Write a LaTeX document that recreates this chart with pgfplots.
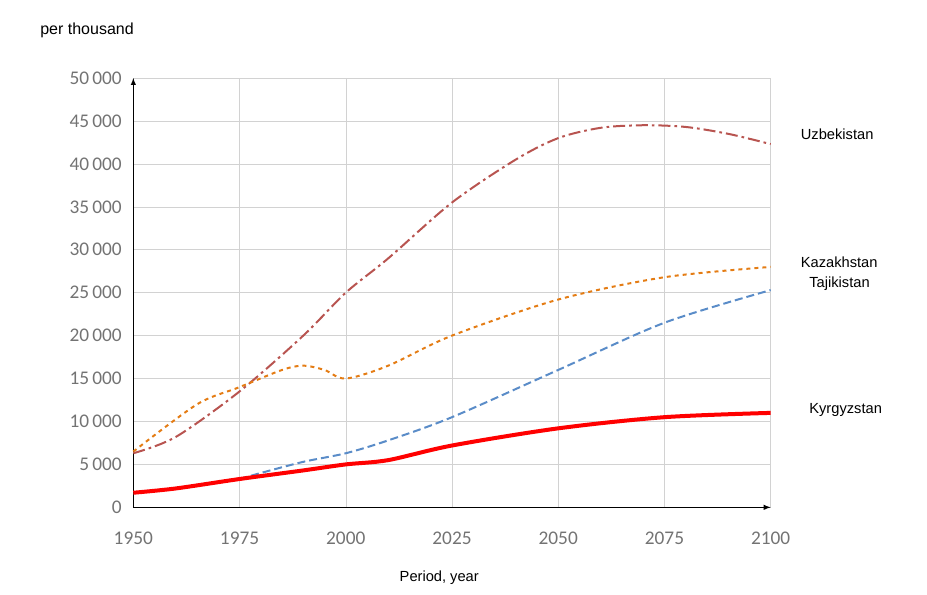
\documentclass[border=0pt]{standalone}
\usepackage{pgfplots}
\pgfplotsset{compat=1.18}
\usepackage{fontspec}
\setmainfont{Carlito}
\newfontfamily\arial{Liberation Sans}
\definecolor{uzb}{RGB}{184,84,80}
\definecolor{kaz}{RGB}{228,124,20}
\definecolor{taj}{RGB}{90,140,200}
\begin{document}
\begin{tikzpicture}
\path[use as bounding box] (-100pt,-65pt) rectangle (595.25pt,380.5pt);
\begin{axis}[
  scale only axis, width=478pt, height=322pt,
  xmin=1950, xmax=2100, ymin=0, ymax=50000,
  xtick={1950,1975,...,2100}, ytick={0,5000,...,50000},
  grid=major, grid style={gray!35},
  axis x line=bottom, axis y line=left,
  axis line style={black,thick,-latex},
  tick style={draw=none},
  tick label style={font=\fontsize{14.5}{16}\selectfont, text=gray!90!black},
  xticklabel style={yshift=-13pt},
  yticklabel style={xshift=-3pt},
  /pgf/number format/assume math mode=true,
  xticklabel style={/pgf/number format/1000 sep={}},
  yticklabel style={/pgf/number format/1000 sep={\,}},
  scaled y ticks=false,
  clip=false,
]
\addplot[color=uzb, dash pattern=on 9pt off 3pt on 2pt off 3pt, line width=1.5pt, smooth] coordinates {
(1950,6300)(1960,8200)(1975,13500)(1990,20000)(2000,25000)(2010,29000)(2025,35500)(2040,40500)(2050,43000)(2060,44200)(2070,44500)(2080,44300)(2090,43500)(2100,42300)};
\addplot[color=kaz, dashed, line width=1.5pt, smooth] coordinates {
(1950,6500)(1965,12000)(1975,14000)(1985,16000)(1990,16500)(1995,16000)(2000,15000)(2010,16500)(2025,20000)(2050,24200)(2075,26800)(2100,28000)};
\addplot[color=taj, dash pattern=on 6pt off 3pt, line width=1.5pt, smooth] coordinates {
(1975,3300)(1980,4000)(1990,5300)(2000,6300)(2010,7800)(2025,10500)(2050,16000)(2075,21500)(2100,25300)};
\addplot[color=red, line width=3pt, smooth] coordinates {
(1950,1700)(1960,2200)(1975,3300)(1990,4300)(2000,5000)(2010,5500)(2025,7200)(2050,9200)(2075,10500)(2100,11000)};
\node[font=\arial\fontsize{11}{13}\selectfont, anchor=west] at (axis cs:2106,43500) {Uzbekistan};
\node[font=\arial\fontsize{11}{13}\selectfont, anchor=west] at (axis cs:2106,28500) {Kazakhstan};
\node[font=\arial\fontsize{11}{13}\selectfont, anchor=west] at (axis cs:2108,26000) {Tajikistan};
\node[font=\arial\fontsize{11}{13}\selectfont, anchor=west] at (axis cs:2108,11300) {Kyrgyzstan};
\node[font=\arial\fontsize{12}{14}\selectfont, anchor=west] at (axis cs:1927,55500) {per thousand};
\node[font=\arial\fontsize{11}{13}\selectfont] at (axis cs:2022,-8200) {Period, year};
\end{axis}
\end{tikzpicture}
\end{document}
